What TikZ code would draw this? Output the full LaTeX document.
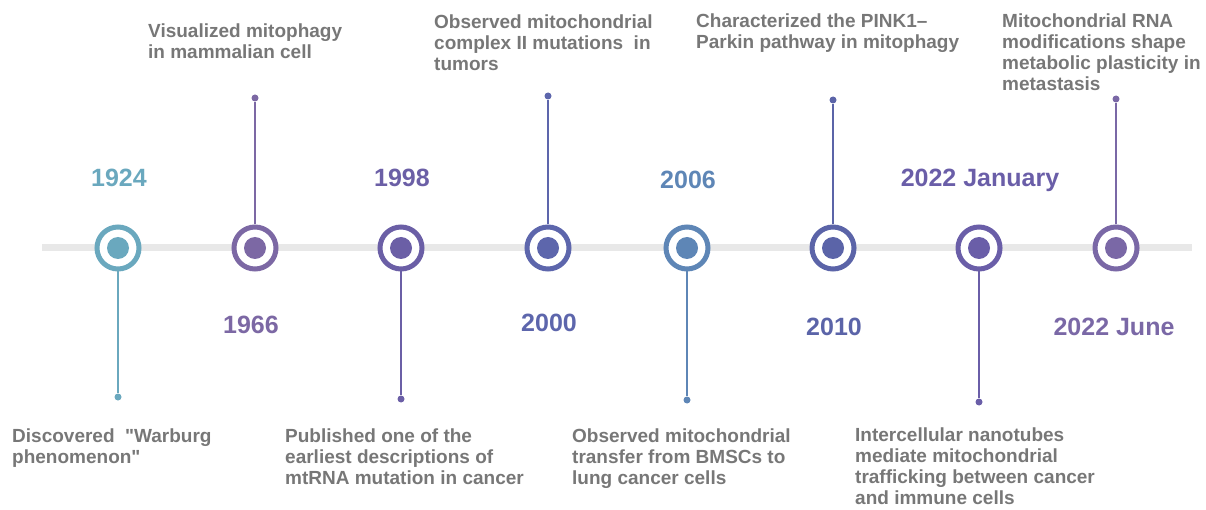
\documentclass[tikz,border=0pt]{standalone}
\usepackage{fontspec}
\setmainfont{Liberation Sans}[Ligatures=TeXOff]

\definecolor{cTeal}{HTML}{6AA8BE}
\definecolor{cLilac}{HTML}{7C68A4}
\definecolor{cViolet}{HTML}{6B5FA6}
\definecolor{cIndigo}{HTML}{5D66AC}
\definecolor{cSteel}{HTML}{5E86B6}
\definecolor{cNavy}{HTML}{5B64A8}
\definecolor{cPlum}{HTML}{6A5EA8}
\definecolor{cMauve}{HTML}{7A68A6}
\definecolor{barGrey}{HTML}{E8E8E8}
\definecolor{txtGrey}{HTML}{777777}

\tikzset{
	ring/.style={circle,draw=#1,fill=white,line width=5pt,minimum size=42pt,inner sep=0pt},
	tip/.style={circle,fill=#1,inner sep=0pt,minimum size=7pt},
	stem/.style={draw=#1,line width=2pt},
	year/.style={text=#1,font=\fontsize{25}{28}\selectfont\bfseries,text height=17.9pt,text depth=0pt},
	event/.style={text=txtGrey,font=\fontsize{19}{21}\selectfont\bfseries,align=left,inner sep=0pt,anchor=north west},
}

\begin{document}
\begin{tikzpicture}[x=1pt,y=-1pt]
	\useasboundingbox (0,0) rectangle (1206,510);
	% time axis
	\coordinate (barL) at (42,248);
	\coordinate (barR) at (1192,248);
	\draw[line width=7pt,barGrey] (barL) -- (barR);

	% milestones on the axis
	\node[ring=cTeal]   (c1924) at (118,248) {};
	\node[ring=cLilac]  (c1966) at (255,248) {};
	\node[ring=cViolet] (c1998) at (401,248) {};
	\node[ring=cIndigo] (c2000) at (548,248) {};
	\node[ring=cSteel]  (c2006) at (687,248) {};
	\node[ring=cNavy]   (c2010) at (833,248) {};
	\node[ring=cPlum]   (c2022a) at (979,248) {};
	\node[ring=cMauve]  (c2022b) at (1116,248) {};
	\fill[cTeal]   (c1924) circle (11pt);
	\fill[cLilac]  (c1966) circle (11pt);
	\fill[cViolet] (c1998) circle (11pt);
	\fill[cIndigo] (c2000) circle (11pt);
	\fill[cSteel]  (c2006) circle (11pt);
	\fill[cNavy]   (c2010) circle (11pt);
	\fill[cPlum]   (c2022a) circle (11pt);
	\fill[cMauve]  (c2022b) circle (11pt);

	% stems with end dots
	\node[tip=cTeal]   (d1924) at (118,397) {};
	\node[tip=cLilac]  (d1966) at (255,98) {};
	\node[tip=cViolet] (d1998) at (401,399) {};
	\node[tip=cIndigo] (d2000) at (548,96) {};
	\node[tip=cSteel]  (d2006) at (687,400) {};
	\node[tip=cNavy]   (d2010) at (833,100) {};
	\node[tip=cPlum]   (d2022a) at (979,402) {};
	\node[tip=cMauve]  (d2022b) at (1116,99) {};
	\draw[stem=cTeal]   (c1924) -- (d1924);
	\draw[stem=cLilac]  (c1966) -- (d1966);
	\draw[stem=cViolet] (c1998) -- (d1998);
	\draw[stem=cIndigo] (c2000) -- (d2000);
	\draw[stem=cSteel]  (c2006) -- (d2006);
	\draw[stem=cNavy]   (c2010) -- (d2010);
	\draw[stem=cPlum]   (c2022a) -- (d2022a);
	\draw[stem=cMauve]  (c2022b) -- (d2022b);

	% years
	\node[year=cTeal]   (y1924) at (119,178) {1924};
	\node[year=cLilac]  (y1966) at (251,325) {1966};
	\node[year=cViolet] (y1998) at (402,178) {1998};
	\node[year=cIndigo] (y2000) at (549,323) {2000};
	\node[year=cSteel]  (y2006) at (688,180) {2006};
	\node[year=cNavy]   (y2010) at (834,327) {2010};
	\node[year=cPlum]   (y2022a) at (980,178) {2022 January};
	\node[year=cMauve]  (y2022b) at (1114,327) {2022 June};

	% events
	\node[event] (e1924) at (12,428.5) {Discovered\ \ "Warburg\\phenomenon"};
	\node[event] (e1966) at (148,23.5) {Visualized mitophagy\\in mammalian cell};
	\node[event] (e1998) at (285,428.5) {Published one of the\\earliest descriptions of\\mtRNA mutation in cancer};
	\node[event] (e2000) at (434,14.5) {Observed mitochondrial\\complex II mutations\ \ in\\tumors};
	\node[event] (e2006) at (572,428.5) {Observed mitochondrial\\transfer from BMSCs to\\lung cancer cells};
	\node[event] (e2010) at (696,13.5) {Characterized the PINK1–\\Parkin pathway in mitophagy};
	\node[event] (e2022a) at (855,427.5) {Intercellular nanotubes\\mediate mitochondrial\\trafficking between cancer\\and immune cells};
	\node[event] (e2022b) at (1002,13.5) {Mitochondrial RNA\\modifications shape\\metabolic plasticity in\\metastasis};
\end{tikzpicture}
\end{document}
